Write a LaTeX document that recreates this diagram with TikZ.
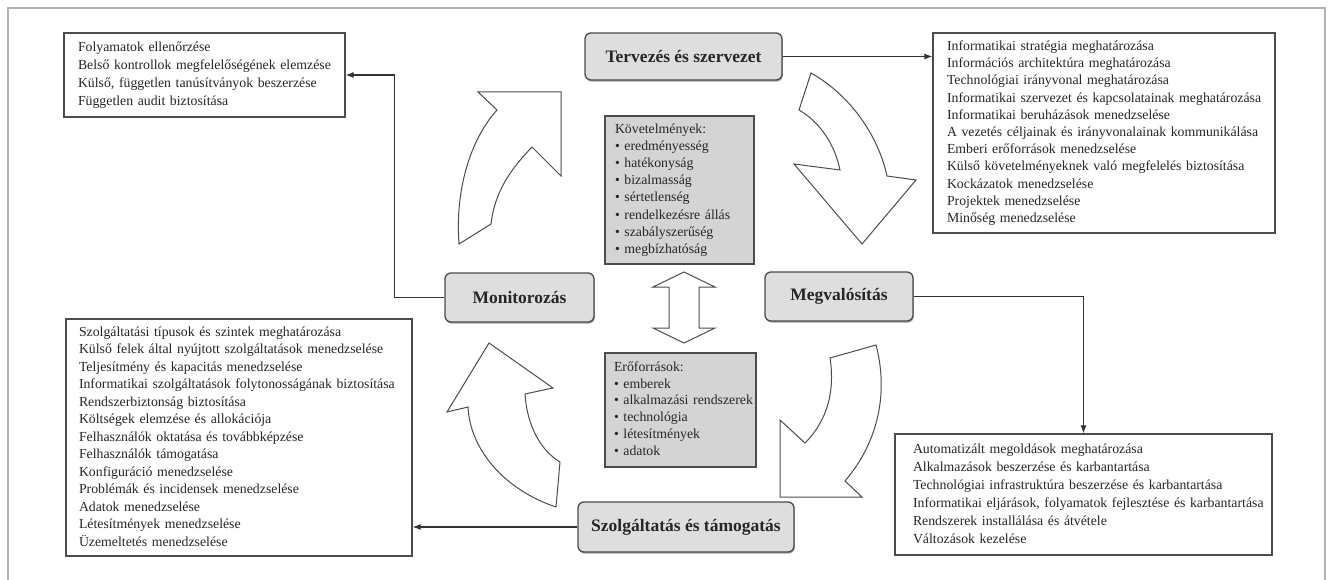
\documentclass[tikz,border=0pt]{standalone}
\usepackage{fontspec}
\setmainfont{Liberation Serif}
\usetikzlibrary{arrows.meta,shadows}
\newcommand\boxlines[1]{\begin{tabular}{@{}l@{}}#1\end{tabular}}
\begin{document}
\begin{tikzpicture}[x=1pt,y=-1pt,
  stage/.style={draw=black!70, line width=1.3pt, fill=black!13, rounded corners=6pt,
    font=\bfseries\fontsize{17.5}{20}\selectfont, text=black!85, inner sep=0pt,
    drop shadow={shadow xshift=0.8pt, shadow yshift=-1.6pt, fill=black!45, opacity=.8}},
  infobox/.style={draw=black!70, line width=1.2pt, fill=white, inner ysep=0pt, align=left,
    text=black!85},
  graybox/.style={infobox, fill=black!17},
  carrow/.style={draw=black!70, fill=white, line width=1pt, line join=miter},
  conn/.style={draw=black!80, line width=1.1pt, -{Latex[length=8pt,width=6pt]}},
  fs/.style={font=\fontsize{13.8}{#1}\selectfont}
]
\useasboundingbox (0,0) rectangle (1332,580);
\fill[white] (0,0) rectangle (1332,580);
\draw[black!30, line width=2pt] (8,8) rectangle (1325,600);

% stages
\node[stage, minimum width=197pt, minimum height=47pt] (T) at (683.5,56.5) {Tervezés és szervezet};
\node[stage, minimum width=149pt, minimum height=49pt] (M) at (519.5,297.5) {Monitorozás};
\node[stage, minimum width=148pt, minimum height=49pt] (V) at (839,296.5) {Megvalósítás};
\node[stage, minimum width=216pt, minimum height=50pt] (S) at (686,527) {Szolgáltatás és támogatás};

% info boxes
\node[infobox, fs=17.8, minimum width=281pt, minimum height=84pt, inner xsep=14pt, text width=253pt] (TLb) at (204.5,75) {\boxlines{%
Folyamatok ellenőrzése\\
Belső kontrollok megfelelőségének elemzése\\
Külső, független tanúsítványok beszerzése\\
Független audit biztosítása}};

\node[infobox, fs=17.2, minimum width=342pt, minimum height=200pt, inner xsep=14pt, text width=314pt] (TRb) at (1104,133) {\boxlines{%
Informatikai stratégia meghatározása\\
Információs architektúra meghatározása\\
Technológiai irányvonal meghatározása\\
Informatikai szervezet és kapcsolatainak meghatározása\\
Informatikai beruházások menedzselése\\
A vezetés céljainak és irányvonalainak kommunikálása\\
Emberi erőforrások menedzselése\\
Külső követelményeknek való megfelelés biztosítása\\
Kockázatok menedzselése\\
Projektek menedzselése\\
Minőség menedzselése}};

\node[infobox, fs=17.5, minimum width=346pt, minimum height=237pt, inner xsep=13pt, text width=320pt] (BLb) at (239,437.5) {\boxlines{%
Szolgáltatási típusok és szintek meghatározása\\
Külső felek által nyújtott szolgáltatások menedzselése\\
Teljesítmény és kapacitás menedzselése\\
Informatikai szolgáltatások folytonosságának biztosítása\\
Rendszerbiztonság biztosítása\\
Költségek elemzése és allokációja\\
Felhasználók oktatása és továbbképzése\\
Felhasználók támogatása\\
Konfiguráció menedzselése\\
Problémák és incidensek menedzselése\\
Adatok menedzselése\\
Létesítmények menedzselése\\
Üzemeltetés menedzselése}};

\node[infobox, fs=18, minimum width=377pt, minimum height=121pt, inner xsep=18pt, text width=341pt] (BRb) at (1083.5,494.5) {\boxlines{%
Automatizált megoldások meghatározása\\
Alkalmazások beszerzése és karbantartása\\
Technológiai infrastruktúra beszerzése és karbantartása\\
Informatikai eljárások, folyamatok fejlesztése és karbantartása\\
Rendszerek installálása és átvétele\\
Változások kezelése}};

\node[graybox, fs=17.1, minimum width=149pt, minimum height=148pt, inner xsep=10pt, text width=129pt] (K) at (679.5,190) {\boxlines{%
Követelmények:\\
• eredményesség\\
• hatékonyság\\
• bizalmasság\\
• sértetlenség\\
• rendelkezésre állás\\
• szabályszerűség\\
• megbízhatóság}};

\node[graybox, fs=16.8, minimum width=151pt, minimum height=114pt, inner xsep=9pt, text width=133pt] (E) at (680.5,410) {\boxlines{%
Erőforrások:\\
• emberek\\
• alkalmazási rendszerek\\
• technológia\\
• létesítmények\\
• adatok}};

% connectors
\draw[conn] (T.east) -- (T.east -| TRb.west);
\draw[conn] (M.west) -- ++(-50,0) |- (TLb.east);
\draw[conn] (V.east) -| (BRb.north);
\draw[conn] (S.west) -- (S.west -| BLb.east);

% double arrow between the two centre boxes
\draw[carrow] (684,272) -- (715,287) -- (699,287) -- (699,328) -- (715,328) -- (684,343)
  -- (653,328) -- (669,328) -- (669,287) -- (653,287) -- cycle;

% curved arrows of the cycle
% top-left (Monitorozas -> Tervezes)
\draw[carrow] (459,244) .. controls (455,190) and (470,140) .. (497,110)
  -- (478,92) -- (561,92) -- (561,176) -- (532,147)
  .. controls (512,168) and (495,190) .. (491,224) -- cycle;
% top-right (Tervezes -> Megvalositas)
\draw[carrow] (811,73) .. controls (850,95) and (878,135) .. (887,176)
  -- (916,180) -- (862,244) -- (794,164) -- (840,170)
  .. controls (835,145) and (820,122) .. (799,110) -- cycle;
% bottom-right (Megvalositas -> Szolgaltatas)
\draw[carrow] (876,345) .. controls (888,390) and (880,440) .. (845,481)
  -- (862,497) -- (780,497) -- (780,420) -- (805,443)
  .. controls (828,420) and (835,390) .. (830,358) -- cycle;
% bottom-left (Szolgaltatas -> Monitorozas)
\draw[carrow] (556,507) .. controls (505,490) and (470,450) .. (468,407)
  -- (447,412) -- (489,343) -- (553,388) -- (525,394)
  .. controls (527,425) and (540,450) .. (560,462) -- cycle;
\end{tikzpicture}
\end{document}
